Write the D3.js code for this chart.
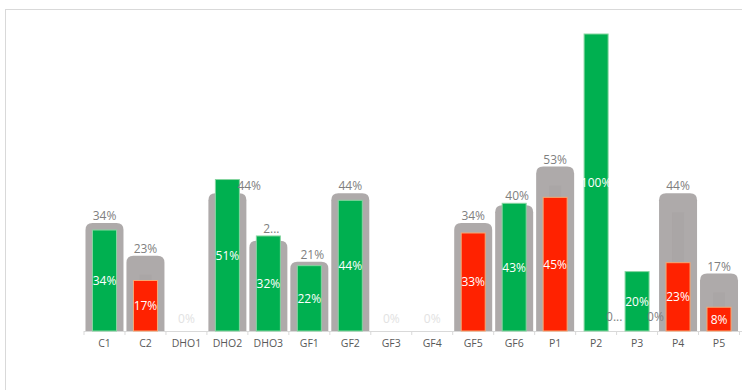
<!DOCTYPE html>
<html>
<head>
<meta charset="utf-8">
<script src="https://cdn.jsdelivr.net/npm/d3@7"></script>
<style>
  body { margin: 0; background: #fff; }
  text { font-family: "Open Sans", "Noto Sans", sans-serif; }
</style>
</head>
<body>
<svg id="chart"></svg>
<script>
// Chart data
const categories = ["C1", "C2", "DHO1", "DHO2", "DHO3", "GF1", "GF2", "GF3", "GF4", "GF5", "GF6", "P1", "P2", "P3", "P4", "P5"];
const totalShare = [0.34, 0.23, 0, 0.44, 0.28, 0.21, 0.44, 0, 0, 0.34, 0.40, 0.53, 0, 0, 0.44, 0.17];
const actualShare = [0.34, 0.17, 0, 0.51, 0.32, 0.22, 0.44, 0, 0, 0.33, 0.43, 0.45, 1.0, 0.2, 0.23, 0.08];
// labels that Excel cut short
const clippedLabels = ["DHO3", "P2"];

const width = 742;
const height = 390;
const baseY = 331;

const data = categories.map((c, i) => ({
  cat: c,
  total: totalShare[i],
  actual: actualShare[i],
}));

const svg = d3.select("#chart").attr("width", width).attr("height", height);

svg.append("rect")
  .attr("x", 5.5).attr("y", 9.5)
  .attr("width", width + 10).attr("height", height)
  .attr("fill", "#fff").attr("stroke", "#d9d9d9");

const x = d3.scaleBand().domain(categories).range([84, 739.5]);
const y = d3.scaleLinear().domain([0, 1]).range([baseY, 34]);
const pct = d3.format(".0%");

const grayHalf = 19;
const innerHalf = 12;
const cap = 7;

// Axis
const axis = svg.append("g")
  .attr("transform", `translate(0,${baseY})`)
  .call(d3.axisBottom(x).tickSize(0).tickPadding(9));
axis.select(".domain").attr("stroke", "#d9d9d9").attr("d", `M${x.range()[0]},0.5H${width}`);
axis.selectAll("text").attr("fill", "#595959").style("font-size", "10.5px");
axis.selectAll(".sep")
  .data(d3.range(categories.length + 1))
  .enter().append("line")
  .attr("x1", (i) => x.range()[0] + i * x.step())
  .attr("x2", (i) => x.range()[0] + i * x.step())
  .attr("y1", 0).attr("y2", 4)
  .attr("stroke", "#d9d9d9");

const cx = (d) => x(d.cat) + x.bandwidth() / 2;

// Gray total bars with rounded caps
svg.append("g").selectAll("path")
  .data(data.filter((d) => d.total > 0))
  .enter().append("path")
  .attr("fill", "#aeaaaa")
  .attr("d", (d) => {
    const l = cx(d) - grayHalf, r = cx(d) + grayHalf, t = y(d.total) - cap;
    return `M${l},${baseY}V${t + cap}Q${l},${t} ${l + cap},${t}H${r - cap}Q${r},${t} ${r},${t + cap}V${baseY}Z`;
  });

// faint shading inside the gray bars
svg.append("g").selectAll("rect")
  .data(data.filter((d) => d.total > d.actual))
  .enter().append("rect")
  .attr("x", (d) => cx(d) - 6)
  .attr("width", 12)
  .attr("y", (d) => y(d.total) + 12)
  .attr("height", (d) => Math.max(0, y(d.actual) - y(d.total) - 12))
  .attr("fill", "#aaa6a6");

// Actual bars
svg.append("g").selectAll("rect")
  .data(data.filter((d) => d.actual > 0))
  .enter().append("rect")
  .attr("x", (d) => cx(d) - innerHalf)
  .attr("width", innerHalf * 2)
  .attr("y", (d) => y(d.actual))
  .attr("height", (d) => baseY - y(d.actual))
  .attr("fill", (d) => (d.actual >= d.total ? "#00b050" : "#ff2200"))
  .attr("stroke", (d) => (d.actual >= d.total ? "#86d6a0" : "#f7a872"))
  .attr("stroke-width", 1);

// Labels inside actual bars
svg.append("g").selectAll("text")
  .data(data.filter((d) => d.actual > 0))
  .enter().append("text")
  .attr("x", cx)
  .attr("y", (d) => (y(d.actual) + baseY) / 2 + 4.5)
  .attr("text-anchor", "middle")
  .attr("fill", "#fff")
  .style("font-size", "12px")
  .text((d) => pct(d.actual));

// Labels for totals
const totalLabel = (d) => (clippedLabels.includes(d.cat) ? pct(d.total)[0] + "..." : pct(d.total));

svg.append("g").selectAll("text")
  .data(data)
  .enter().append("text")
  .each(function (d) {
    const t = d3.select(this).style("font-size", "12px");
    const natural = y(d.total) - cap - 3;
    if (d.total === 0 && d.actual === 0) {
      t.attr("x", cx(d)).attr("y", baseY - 8).attr("text-anchor", "middle")
        .attr("fill", "#e2e2e2").text("0%");
    } else if (d.actual - d.total > 0.05) {
      t.attr("x", cx(d) + 10).attr("y", d.total === 0 ? baseY - 10 : natural)
        .attr("text-anchor", "start").attr("fill", "#7f7f7f").text(totalLabel(d));
    } else {
      t.attr("x", cx(d) + (d.actual > d.total ? 3 : 0))
        .attr("y", Math.min(natural, y(d.actual) - 3))
        .attr("text-anchor", "middle").attr("fill", "#7f7f7f").text(totalLabel(d));
    }
  });
</script>
</body>
</html>
